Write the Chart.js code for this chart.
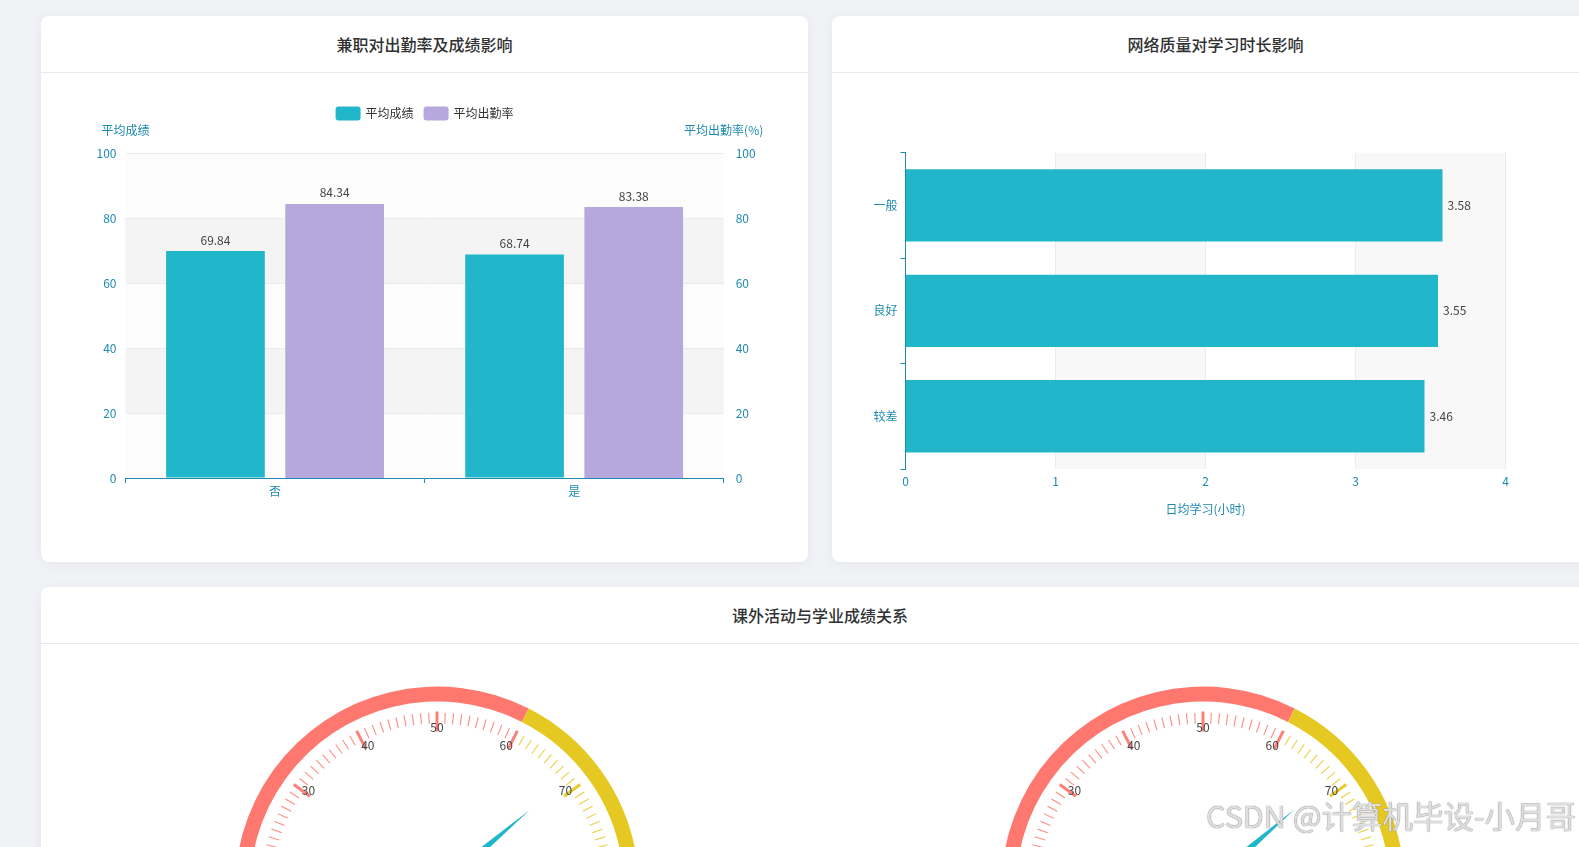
<!DOCTYPE html>
<html>
<head>
<meta charset="utf-8">
<script src="https://cdn.jsdelivr.net/npm/chart.js@4.4.1/dist/chart.umd.min.js"></script>
<style>
html,body{margin:0;padding:0;width:1579px;height:847px;overflow:hidden;background:#f0f2f5;font-family:"Noto Sans CJK SC","Noto Sans",sans-serif;}
.card{position:absolute;background:#fff;border-radius:8px;box-shadow:0 2px 12px rgba(0,0,0,0.05);}
.hd{position:absolute;left:0;right:0;top:0;height:56px;border-bottom:1px solid #e7e9ed;text-align:center;line-height:56px;font-size:16px;color:#303133;font-weight:500;}
canvas{position:absolute;}
.wm{position:absolute;left:1206px;top:795px;font-size:30.5px;line-height:40px;white-space:nowrap;color:#dedede;font-weight:400;text-shadow:0 0 1px #8a8a8a,0 0 1px #8a8a8a;font-family:"Noto Sans CJK SC",sans-serif;}
</style>
</head>
<body>
<div class="card" style="left:41px;top:16px;width:767px;height:546px;"><div class="hd">兼职对出勤率及成绩影响</div></div>
<div class="card" style="left:832px;top:16px;width:767px;height:546px;"><div class="hd">网络质量对学习时长影响</div></div>
<div class="card" style="left:41px;top:587px;width:1558px;height:420px;"><div class="hd">课外活动与学业成绩关系</div></div>

<canvas id="c1" width="767" height="489" style="left:41px;top:73px;"></canvas>
<canvas id="c2" width="767" height="489" style="left:832px;top:73px;"></canvas>
<canvas id="g1" width="600" height="432" style="left:137px;top:643px;"></canvas>
<canvas id="g2" width="600" height="432" style="left:903px;top:643px;"></canvas>

<div class="wm">CSDN @计算机毕设-小月哥</div>

<script>
// ---------- data ----------
const partTimeCats = ['否', '是'];
const avgScore = [69.84, 68.74];
const avgAttendance = [84.34, 83.38];
const seriesNames = ['平均成绩', '平均出勤率'];

const netQuality = ['一般', '良好', '较差'];
const studyHours = [3.58, 3.55, 3.46];

const gaugeBands = [60, 20, 20];          // band widths on 0..100
const gaugeTickLabels = [0, 10, 20, 30, 40, 50, 60, 70, 80, 90, 100];
const gaugeValues = [68.4, 68.2];

// ---------- style ----------
const FONT = '"Noto Sans CJK SC","Microsoft YaHei",sans-serif';
const AXIS = '#1f8ab0';
const TEAL = '#22b6ca';
const PURPLE = '#b6a7dd';
const BAND_COLORS = ['#ff786f', '#e6c822', '#7fd3a4'];
Chart.defaults.font.family = FONT;
Chart.defaults.font.size = 12;

const splitArea = {
  id: 'splitArea',
  beforeDraw(chart, args, opts) {
    const s = chart.scales[opts.axis], a = chart.chartArea, ctx = chart.ctx;
    ctx.save();
    const t = s.ticks;
    for (let i = 0; i < t.length - 1; i++) {
      const p0 = s.getPixelForValue(t[i].value), p1 = s.getPixelForValue(t[i + 1].value);
      ctx.fillStyle = opts.colors[i % 2];
      if (s.isHorizontal()) ctx.fillRect(Math.min(p0, p1), a.top, Math.abs(p1 - p0), a.bottom - a.top);
      else ctx.fillRect(a.left, Math.min(p0, p1), a.right - a.left, Math.abs(p1 - p0));
    }
    ctx.restore();
  }
};

const valueLabels = {
  id: 'valueLabels',
  afterDatasetsDraw(chart, args, opts) {
    const ctx = chart.ctx;
    ctx.save();
    ctx.font = '12px ' + FONT;
    ctx.fillStyle = opts.color;
    const horiz = chart.options.indexAxis === 'y';
    chart.data.datasets.forEach((ds, di) => {
      chart.getDatasetMeta(di).data.forEach((el, i) => {
        const txt = ds.data[i].toFixed(2);
        if (horiz) { ctx.textAlign = 'left'; ctx.textBaseline = 'middle'; ctx.fillText(txt, el.x + 5, el.y); }
        else { ctx.textAlign = 'center'; ctx.textBaseline = 'bottom'; ctx.fillText(txt, el.x, el.y - 5); }
      });
    });
    ctx.restore();
  }
};

const topLegend = {
  id: 'topLegend',
  afterDraw(chart, args, opts) {
    const ctx = chart.ctx;
    ctx.save();
    ctx.font = '12px ' + FONT;
    const items = chart.data.datasets.map(d => ({ label: d.label, color: d.backgroundColor, w: 30 + ctx.measureText(d.label).width }));
    const total = items.reduce((s, it) => s + it.w, 0) + 10 * (items.length - 1);
    let x = (chart.chartArea.left + chart.chartArea.right) / 2 - total / 2;
    const y = chart.chartArea.top - opts.gap;
    items.forEach(it => {
      ctx.fillStyle = it.color;
      ctx.beginPath(); ctx.roundRect(x, y - 7, 25, 14, 3); ctx.fill();
      ctx.fillStyle = '#333'; ctx.textAlign = 'left'; ctx.textBaseline = 'middle';
      ctx.fillText(it.label, x + 30, y);
      x += it.w + 10;
    });
    ctx.restore();
  }
};

const axisNames = {
  id: 'axisNames',
  afterDraw(chart, args, opts) {
    const ctx = chart.ctx, a = chart.chartArea;
    ctx.save();
    ctx.font = '12px ' + FONT; ctx.fillStyle = AXIS; ctx.textAlign = 'center'; ctx.textBaseline = 'middle';
    opts.items.forEach(it => {
      const s = chart.scales[it.axis];
      let x, y;
      if (s.isHorizontal()) { x = (a.left + a.right) / 2; y = a.bottom + it.gap; }
      else { x = s.position === 'left' ? a.left : a.right; y = a.top - it.gap; }
      ctx.fillText(it.text, x, y);
    });
    ctx.restore();
  }
};

// ---------- chart 1 ----------
new Chart(document.getElementById('c1'), {
  type: 'bar',
  data: {
    labels: partTimeCats,
    datasets: [
      { label: seriesNames[0], data: avgScore, backgroundColor: TEAL, yAxisID: 'y', categoryPercentage: 0.797, barPercentage: 0.828 },
      { label: seriesNames[1], data: avgAttendance, backgroundColor: PURPLE, yAxisID: 'y1', categoryPercentage: 0.797, barPercentage: 0.828 }
    ]
  },
  options: {
    responsive: false, animation: false, devicePixelRatio: 1,
    layout: { autoPadding: false, padding: { top: 80, bottom: 54, left: 44.5, right: 44.3 } },
    plugins: {
      legend: { display: false }, tooltip: { enabled: false },
      splitArea: { axis: 'y', colors: ['#fcfcfc', '#f4f4f4'] },
      valueLabels: { color: '#444' },
      topLegend: { gap: 39.5 },
      axisNames: { items: [{ axis: 'y', text: '平均成绩', gap: 23 }, { axis: 'y1', text: '平均出勤率(%)', gap: 23 }] }
    },
    scales: {
      x: {
        grid: { drawOnChartArea: false, drawTicks: true, tickLength: 5, color: AXIS },
        border: { color: AXIS },
        ticks: { color: AXIS, padding: 1 },
        afterFit(s) { s.height = 30; }
      },
      y: {
        position: 'left', min: 0, max: 100,
        ticks: { stepSize: 20, color: AXIS, padding: 9 },
        grid: { color: c => (c.tick && c.tick.value === 0) ? 'rgba(0,0,0,0)' : '#ebebeb', drawTicks: false },
        border: { display: false },
        afterFit(s) { s.width = 40; }
      },
      y1: {
        position: 'right', min: 0, max: 100,
        ticks: { stepSize: 20, color: AXIS, padding: 4 },
        grid: { display: false },
        border: { display: false },
        afterFit(s) { s.width = 40; }
      }
    }
  },
  plugins: [splitArea, valueLabels, topLegend, axisNames]
});

// ---------- chart 2 ----------
new Chart(document.getElementById('c2'), {
  type: 'bar',
  data: {
    labels: netQuality,
    datasets: [{ label: '日均学习', data: studyHours, backgroundColor: TEAL, categoryPercentage: 1, barPercentage: 0.686 }]
  },
  options: {
    indexAxis: 'y',
    responsive: false, animation: false, devicePixelRatio: 1,
    layout: { autoPadding: false, padding: { top: 79.7, bottom: 63, left: 33.5, right: 93.5 } },
    plugins: {
      legend: { display: false }, tooltip: { enabled: false },
      splitArea: { axis: 'x', colors: ['#ffffff', '#f8f8f8'] },
      valueLabels: { color: '#444' },
      axisNames: { items: [{ axis: 'x', text: '日均学习(小时)', gap: 40 }] }
    },
    scales: {
      x: {
        min: 0, max: 4,
        ticks: { stepSize: 1, color: AXIS, padding: 5 },
        grid: { color: c => (c.tick && c.tick.value === 0) ? 'rgba(0,0,0,0)' : '#ececec', drawTicks: false },
        border: { display: false },
        afterFit(s) { s.height = 30; }
      },
      y: {
        grid: { drawOnChartArea: false, drawTicks: true, tickLength: 5, color: AXIS },
        border: { color: AXIS },
        ticks: { color: AXIS, padding: 3 },
        afterFit(s) { s.width = 40; }
      }
    }
  },
  plugins: [splitArea, valueLabels, axisNames]
});

// ---------- gauges ----------
const gaugeDial = {
  id: 'gaugeDial',
  afterDatasetsDraw(chart, args, opts) {
    const arcs = chart.getDatasetMeta(0).data;
    const ds = chart.data.datasets[0];
    const cx = arcs[0].x, cy = arcs[0].y, R = arcs[0].outerRadius, r0 = arcs[0].innerRadius;
    const a0 = arcs[0].startAngle, a1 = arcs[arcs.length - 1].endAngle;
    const min = opts.min, max = opts.max;
    const ang = v => a0 + (v - min) / (max - min) * (a1 - a0);
    const bandColor = v => {
      let acc = min;
      for (let i = 0; i < ds.data.length; i++) { acc += ds.data[i]; if (v <= acc + 1e-9) return ds.backgroundColor[i]; }
      return ds.backgroundColor[ds.data.length - 1];
    };
    const ctx = chart.ctx;
    ctx.save();
    ctx.lineCap = 'butt';
    for (let v = min; v <= max; v += 1) {
      const a = ang(v), c = Math.cos(a), s = Math.sin(a);
      const major = (v - min) % 10 === 0;
      const rOut = major ? r0 - 10 : r0 - 11;
      const rIn = major ? r0 - 30 : r0 - 22;
      ctx.strokeStyle = bandColor(v);
      ctx.globalAlpha = major ? 0.95 : 0.85;
      ctx.lineWidth = major ? 3 : 1.1;
      ctx.beginPath(); ctx.moveTo(cx + c * rOut, cy + s * rOut); ctx.lineTo(cx + c * rIn, cy + s * rIn); ctx.stroke();
    }
    ctx.globalAlpha = 1;
    ctx.font = '12px ' + FONT;
    ctx.fillStyle = '#464646';
    const rl = r0 - 20;
    opts.labels.forEach(v => {
      const a = ang(v), ux = Math.cos(a), uy = Math.sin(a);
      ctx.textAlign = ux < -0.4 ? 'left' : (ux > 0.4 ? 'right' : 'center');
      ctx.textBaseline = uy < -0.8 ? 'top' : (uy > 0.8 ? 'bottom' : 'middle');
      ctx.fillText(String(v), cx + ux * rl, cy + uy * rl);
    });
    // needle
    const a = ang(opts.value), L = R * 0.6, w = 6;
    const ap = a - Math.PI / 2;
    ctx.fillStyle = opts.needle;
    ctx.beginPath();
    ctx.moveTo(cx - Math.cos(a) * w * 2, cy - Math.sin(a) * w * 2);
    ctx.lineTo(cx + Math.cos(ap) * w, cy + Math.sin(ap) * w);
    ctx.lineTo(cx + Math.cos(a) * L, cy + Math.sin(a) * L);
    ctx.lineTo(cx - Math.cos(ap) * w, cy - Math.sin(ap) * w);
    ctx.closePath();
    ctx.fill();
    ctx.restore();
  }
};

function makeGauge(id, value) {
  return new Chart(document.getElementById(id), {
    type: 'doughnut',
    data: { labels: ['低', '中', '高'], datasets: [{ data: gaugeBands, backgroundColor: BAND_COLORS, borderWidth: 0 }] },
    options: {
      responsive: false, animation: false, devicePixelRatio: 1,
      rotation: -135, circumference: 270, cutout: '92.6%', radius: 202,
      layout: { padding: 0 },
      plugins: {
        legend: { display: false }, tooltip: { enabled: false },
        gaugeDial: { min: 0, max: 100, labels: gaugeTickLabels, value: value, needle: TEAL }
      }
    },
    plugins: [gaugeDial]
  });
}
makeGauge('g1', gaugeValues[0]);
makeGauge('g2', gaugeValues[1]);
</script>
</body>
</html>
